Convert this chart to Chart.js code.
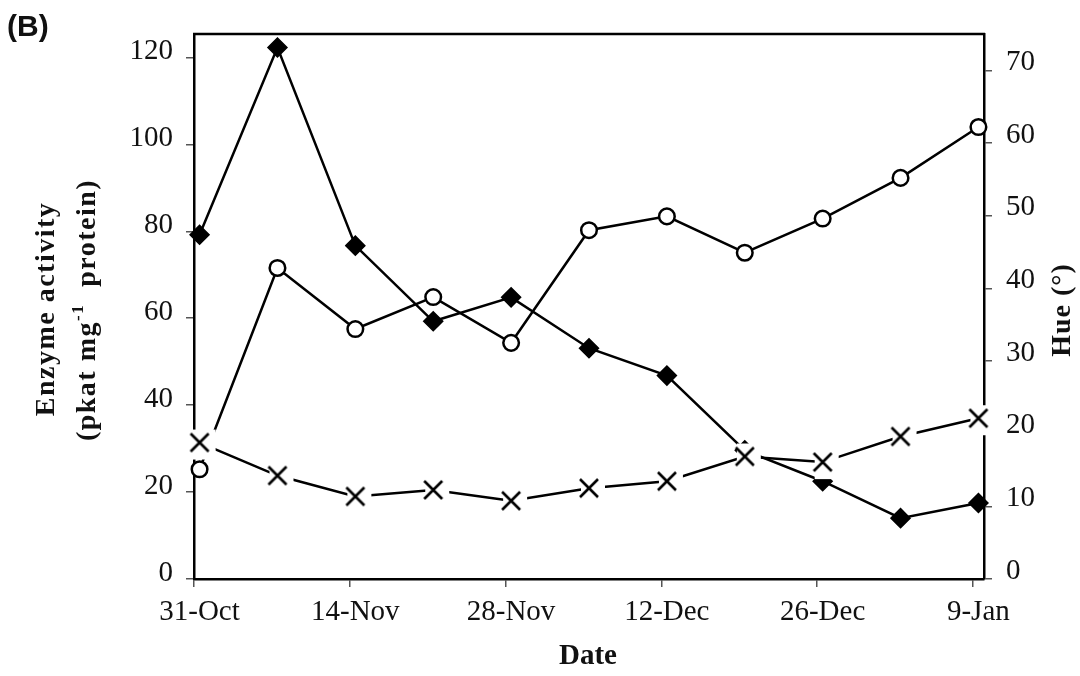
<!DOCTYPE html>
<html>
<head>
<meta charset="utf-8">
<script src="https://cdn.jsdelivr.net/npm/chart.js@4.4.1/dist/chart.umd.min.js"></script>
<style>
  html, body { margin: 0; padding: 0; background: #fff; }
  canvas { display: block; }
</style>
</head>
<body>
<canvas id="myChart" width="1080" height="676"></canvas>
<script>
// sampling days, counted from 31-Oct
const sampleDays = [0.5, 7.5, 14.5, 21.5, 28.5, 35.5, 42.5, 49.5, 56.5, 63.5, 70.5];
// enzyme activity (pkat mg-1 protein), filled diamonds
const enzymeDiamond = [79.2, 122.3, 76.7, 59.3, 64.8, 53.1, 46.8, 29.6, 22.5, 14.0, 17.5];
// enzyme activity, crosses
const enzymeCross = [31.4, 23.8, 19.0, 20.5, 18.0, 20.9, 22.5, 28.2, 26.9, 32.8, 37.0];
// hue (degrees), open circles
const hueCircle = [15.1, 42.8, 34.4, 38.8, 32.5, 48.0, 49.9, 44.9, 49.6, 55.2, 62.2];

const dateTickDays = [0, 14, 28, 42, 56, 70];
const dateTickLabels = ['31-Oct', '14-Nov', '28-Nov', '12-Dec', '26-Dec', '9-Jan'];
const enzymeTicks = [0, 20, 40, 60, 80, 100, 120];
const hueTicks = [0, 10, 20, 30, 40, 50, 60, 70];

const SERIF = '"Liberation Serif", "Times New Roman", serif';

function toPoints(vals){
    return sampleDays.map((d, i) => ({x: d, y: vals[i]}));
}

// X marker with a white box behind it, shifted down-right like the original
// (lines leaving a cross start a little away from it)
function crossMarker(){
    const c = document.createElement('canvas');
    c.width = 40; c.height = 40;
    const g = c.getContext('2d');
    g.fillStyle = '#fff';
    g.fillRect(12, 7, 24, 30);
    g.strokeStyle = '#000';
    g.lineWidth = 2.6;
    g.beginPath();
    g.moveTo(11, 11); g.lineTo(29, 29);
    g.moveTo(29, 11); g.lineTo(11, 29);
    g.stroke();
    return c;
}

function drawRuns(ctx, cx, cy, runs, spacing){
    ctx.save();
    ctx.letterSpacing = spacing + 'px';
    let total = 0;
    runs.forEach(r => { ctx.font = r.font; r.w = ctx.measureText(r.text).width; total += r.w; });
    ctx.translate(cx, cy);
    ctx.rotate(-Math.PI / 2);
    ctx.textAlign = 'left';
    ctx.textBaseline = 'middle';
    let x = -total / 2;
    runs.forEach(r => {
        ctx.font = r.font;
        ctx.fillText(r.text, x, r.dy || 0);
        x += r.w;
    });
    ctx.restore();
}

const titlesPlugin = {
    id: 'titles',
    beforeDatasetsDraw(chart){
        const {ctx, chartArea} = chart;
        ctx.save();
        ctx.strokeStyle = '#000';
        ctx.lineWidth = 2.5;
        ctx.beginPath();
        ctx.moveTo(chartArea.left - 1, chartArea.top);
        ctx.lineTo(chartArea.right + 1, chartArea.top);
        ctx.stroke();
        ctx.restore();
    },
    afterDraw(chart){
        const ctx = chart.ctx;
        ctx.save();
        ctx.fillStyle = '#111';
        // panel letter
        ctx.font = 'bold 30px "Liberation Sans", Arial, sans-serif';
        ctx.textAlign = 'left';
        ctx.textBaseline = 'alphabetic';
        ctx.fillText('(B)', 7, 36);
        // x title
        ctx.font = 'bold 29px ' + SERIF;
        ctx.textAlign = 'center';
        ctx.textBaseline = 'middle';
        ctx.fillText('Date', 588, 657);
        ctx.restore();

        const big = 'bold 28px ' + SERIF;
        const small = 'bold 17px ' + SERIF;
        ctx.fillStyle = '#111';
        drawRuns(ctx, 47, 309, [{text: 'Enzyme activity', font: big}], 1.5);
        drawRuns(ctx, 88, 310, [
            {text: '(pkat mg', font: big},
            {text: '-1', font: small, dy: -9},
            {text: '  protein)', font: big}
        ], 1.5);
        drawRuns(ctx, 1063, 310, [{text: 'Hue (\u00B0)', font: big}], 1);
    }
};

const ctx = document.querySelector('#myChart');

const data = {
    datasets: [
        {
            label: 'Enzyme (cross)',
            data: toPoints(enzymeCross),
            yAxisID: 'y',
            order: 0,
            borderColor: '#000',
            borderWidth: 2.5,
            pointStyle: crossMarker(),
            pointRadius: 9,
            clip: false
        },
        {
            label: 'Hue',
            data: toPoints(hueCircle),
            yAxisID: 'y1',
            order: 1,
            borderColor: '#000',
            borderWidth: 2.5,
            pointStyle: 'circle',
            pointRadius: 7.8,
            pointBorderWidth: 2.5,
            pointBackgroundColor: '#fff',
            pointBorderColor: '#000',
            clip: false
        },
        {
            label: 'Enzyme (diamond)',
            data: toPoints(enzymeDiamond),
            yAxisID: 'y',
            order: 2,
            borderColor: '#000',
            borderWidth: 2.5,
            pointStyle: 'rectRot',
            pointRadius: 9.5,
            pointBorderWidth: 1.5,
            pointBackgroundColor: '#000',
            pointBorderColor: '#000',
            clip: false
        }
    ]
};

const tickGrid = {
    display: true,
    drawOnChartArea: false,
    drawTicks: true,
    tickLength: 8,
    color: '#555',
    lineWidth: 1.5
};
const axisBorder = {display: true, color: '#000', width: 2.5};

const config = {
    type: 'line',
    data: data,
    options: {
        responsive: false,
        animation: false,
        devicePixelRatio: 1,
        layout: {padding: {top: 34, left: 0, right: 0, bottom: 0}},
        plugins: {
            legend: {display: false},
            tooltip: {enabled: false}
        },
        elements: {line: {tension: 0}},
        scales: {
            x: {
                type: 'linear',
                min: 0,
                max: 71,
                grid: tickGrid,
                border: axisBorder,
                afterBuildTicks: (scale) => { scale.ticks = dateTickDays.map(v => ({value: v})); },
                afterFit: (scale) => { scale.height = 97; },
                ticks: {
                    autoSkip: false,
                    maxRotation: 0,
                    padding: 8,
                    labelOffset: 5.5,
                    color: '#111',
                    font: {family: SERIF, size: 29},
                    callback: (value) => dateTickLabels[dateTickDays.indexOf(value)]
                }
            },
            y: {
                position: 'left',
                min: 0,
                max: 125.4,
                grid: tickGrid,
                border: axisBorder,
                afterBuildTicks: (scale) => { scale.ticks = enzymeTicks.map(v => ({value: v})); },
                afterFit: (scale) => { scale.width = 194; },
                ticks: {
                    padding: 13,
                    labelOffset: -6,
                    color: '#111',
                    font: {family: SERIF, size: 29}
                }
            },
            y1: {
                position: 'right',
                min: 0,
                max: 75,
                grid: tickGrid,
                border: axisBorder,
                afterBuildTicks: (scale) => { scale.ticks = hueTicks.map(v => ({value: v})); },
                afterFit: (scale) => { scale.width = 96; },
                ticks: {
                    padding: 14,
                    labelOffset: -8,
                    color: '#111',
                    font: {family: SERIF, size: 29}
                }
            }
        }
    },
    plugins: [titlesPlugin]
};

const myChart = new Chart(ctx, config);
</script>
</body>
</html>
